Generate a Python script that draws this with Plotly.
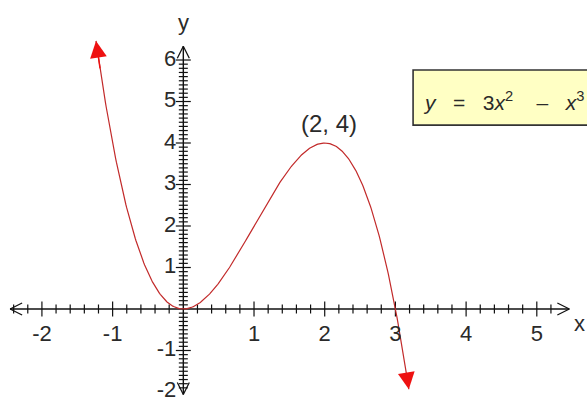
import numpy as np
import plotly.graph_objects as go

# ---- data -------------------------------------------------------------
x_tick_vals = [-2, -1, 1, 2, 3, 4, 5]
y_tick_vals = [-2, -1, 1, 2, 3, 4, 5, 6]
x_minor_step = 0.2
y_minor_step = 0.1
curve_x_start = -1.235
curve_x_end = 3.19
peak_point = (2, 4)
equation_label = ("<i>y</i>&nbsp;&nbsp;&nbsp;=&nbsp;&nbsp;&nbsp;3<i>x</i><sup>2</sup>"
                  "&nbsp;&nbsp;&nbsp;&nbsp;–&nbsp;&nbsp;&nbsp;<i>x</i><sup>3</sup>")


def f(x):
    return 3 * x**2 - x**3


# ---- canvas / scales --------------------------------------------------
W, H = 587, 401
x_range = [-2.593, 5.710]
y_range = [-2.217, 7.446]
px_x = (x_range[1] - x_range[0]) / W   # data units per pixel, horizontal
px_y = (y_range[1] - y_range[0]) / H   # data units per pixel, vertical

x_axis_min, x_axis_max = -2.45, 5.46
y_axis_min, y_axis_max = -2.06, 6.33

FONT = "Liberation Sans, Arial, sans-serif"
fig = go.Figure()


def segs(pairs):
    xs, ys = [], []
    for (x0, y0), (x1, y1) in pairs:
        xs += [x0, x1, None]
        ys += [y0, y1, None]
    return xs, ys


# axis lines
ax_x, ax_y = segs([((x_axis_min, 0), (x_axis_max, 0)),
                   ((0, y_axis_min), (0, y_axis_max))])
fig.add_trace(go.Scatter(x=ax_x, y=ax_y, mode="lines",
                         line=dict(color="#111", width=1.4),
                         hoverinfo="skip", showlegend=False))

# tick marks along x
tick_pairs = []
xs_all = np.round(np.arange(-2.4, 5.2 + 1e-9, x_minor_step), 6)
for v in xs_all:
    if abs(v) < 1e-9:
        continue
    major = abs(v - round(v)) < 1e-6
    h = (7.5 if major else 4.5) * px_y
    tick_pairs.append(((v, -h), (v, h)))
# tick marks along y
ys_all = np.round(np.arange(-1.9, 6.0 + 1e-9, y_minor_step), 6)
for v in ys_all:
    if abs(v) < 1e-9:
        continue
    major = abs(v - round(v)) < 1e-6
    w = (7.5 if major else 4.5) * px_x
    tick_pairs.append(((-w, v), (w, v)))
tk_x, tk_y = segs(tick_pairs)
fig.add_trace(go.Scatter(x=tk_x, y=tk_y, mode="lines",
                         line=dict(color="#111", width=1.2),
                         hoverinfo="skip", showlegend=False))

# open arrowheads at the axis ends
a = 12  # arrow length, px
b = 6   # arrow half-width, px
arrow_pairs = [
    ((x_axis_min + a * px_x, b * px_y), (x_axis_min, 0)),
    ((x_axis_min, 0), (x_axis_min + a * px_x, -b * px_y)),
    ((x_axis_max - a * px_x, b * px_y), (x_axis_max, 0)),
    ((x_axis_max, 0), (x_axis_max - a * px_x, -b * px_y)),
    ((-b * px_x, y_axis_max - a * px_y), (0, y_axis_max)),
    ((0, y_axis_max), (b * px_x, y_axis_max - a * px_y)),
    ((-b * px_x, y_axis_min + a * px_y), (0, y_axis_min)),
    ((0, y_axis_min), (b * px_x, y_axis_min + a * px_y)),
]
ar_x, ar_y = segs(arrow_pairs)
fig.add_trace(go.Scatter(x=ar_x, y=ar_y, mode="lines",
                         line=dict(color="#111", width=1.3),
                         hoverinfo="skip", showlegend=False))

# the cubic curve
cx = np.linspace(curve_x_start, curve_x_end, 400)
fig.add_trace(go.Scatter(x=cx, y=f(cx), mode="lines",
                         line=dict(color="#c22a2a", width=1.2),
                         hoverinfo="skip", showlegend=False))

# tick labels
label_font = dict(family=FONT, size=22, color="#2a2a2a")
fig.add_trace(go.Scatter(x=x_tick_vals, y=[-26 * px_y] * len(x_tick_vals),
                         mode="text", text=[str(v) for v in x_tick_vals],
                         textfont=label_font, hoverinfo="skip", showlegend=False))
fig.add_trace(go.Scatter(x=[-7 * px_x] * len(y_tick_vals), y=y_tick_vals,
                         mode="text", text=[str(v) for v in y_tick_vals],
                         textposition="middle left",
                         textfont=label_font, hoverinfo="skip", showlegend=False))

annotations = []
# axis names
annotations.append(dict(x=0, y=y_axis_max + 24 * px_y, text="y", showarrow=False,
                        font=label_font, xref="x", yref="y"))
annotations.append(dict(x=x_range[1], y=-14 * px_y, text="x", showarrow=False,
                        font=label_font, xref="x", yref="y", xanchor="right"))

# peak label
annotations.append(dict(x=peak_point[0] + 0.06, y=peak_point[1] + 0.46,
                        text=f"({peak_point[0]}, {peak_point[1]})",
                        showarrow=False, font=dict(family=FONT, size=24, color="#2a2a2a"),
                        xref="x", yref="y"))

# filled red arrowheads at the curve ends
for xe, xi in ((curve_x_start, curve_x_start + 0.06), (curve_x_end, curve_x_end - 0.03)):
    annotations.append(dict(x=xe, y=f(xe), ax=xi, ay=f(xi), xref="x", yref="y",
                            axref="x", ayref="y", text="", showarrow=True,
                            arrowhead=2, arrowsize=2.4, arrowwidth=1.4,
                            arrowcolor="#ee1111"))

# equation box
fig.add_shape(type="rect", xref="x", yref="y",
              x0=3.25, x1=6.0, y0=4.43, y1=5.76,
              fillcolor="#ffffc4", line=dict(color="#333", width=1.6), layer="below")
annotations.append(dict(x=3.25 + 8 * px_x, y=(4.43 + 5.76) / 2 - 3 * px_y,
                        text=equation_label,
                        showarrow=False, xanchor="left", yanchor="middle",
                        font=dict(family=FONT, size=21, color="#2a2a2a"),
                        xref="x", yref="y"))

fig.update_layout(
    width=W, height=H,
    margin=dict(l=0, r=0, t=0, b=0),
    paper_bgcolor="white", plot_bgcolor="white",
    xaxis=dict(range=x_range, visible=False, fixedrange=True),
    yaxis=dict(range=y_range, visible=False, fixedrange=True),
    annotations=annotations,
    showlegend=False,
)

fig.write_html("out.html")
